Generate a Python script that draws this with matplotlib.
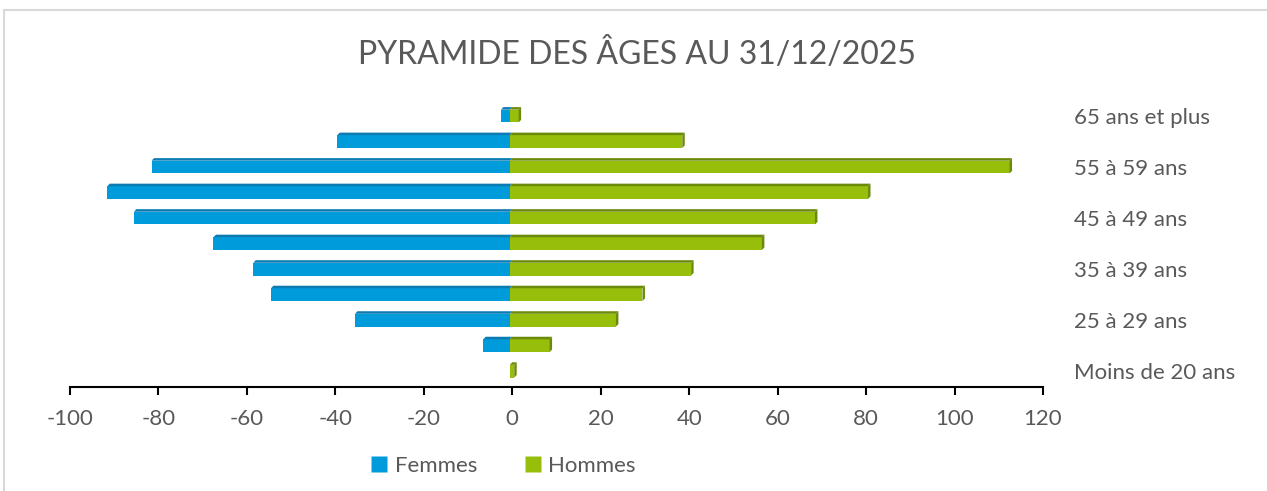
import matplotlib
matplotlib.use("Agg")
import matplotlib.pyplot as plt
from matplotlib.patches import Polygon, Rectangle
from matplotlib.lines import Line2D
import numpy as np

plt.rcParams['font.family'] = ['Lato', 'DejaVu Sans']

categories = ["Moins de 20 ans", "20 à 24 ans", "25 à 29 ans", "30 à 34 ans",
              "35 à 39 ans", "40 à 44 ans", "45 à 49 ans", "50 à 54 ans",
              "55 à 59 ans", "60 à 64 ans", "65 ans et plus"]
femmes = [0, -6, -35, -54, -58, -67, -85, -91, -81, -39, -2]
hommes = [1, 9, 24, 30, 41, 57, 69, 81, 113, 39, 2]
xticks = [-100, -80, -60, -40, -20, 0, 20, 40, 60, 80, 100, 120]
title = "PYRAMIDE DES ÂGES AU 31/12/2025"

blue = "#009BDB"
blue_top = "#0B7BB2"
green = "#98BE0C"
green_top = "#6C8A0A"
text_col = "#595959"

W, H = 1267, 491
fig = plt.figure(figsize=(W / 100, H / 100), dpi=100)
ax = fig.add_axes([70 / W, (H - 386.5) / H, 973 / W, 284.5 / H])

y = np.arange(len(categories))
h = 0.5      # front face height (category units)
dx = 0.56    # depth offset in x (data units)
dy = 0.10    # depth offset in y (category units)

def draw(values, face, top):
    vals = np.array(values, dtype=float)
    ax.barh(y, vals, left=-dx, height=h, color=face, edgecolor='none', zorder=3)
    for yi, v in zip(y, vals):
        if v == 0:
            continue
        x0, x1 = -dx, v - dx
        lo, hi = min(x0, x1), max(x0, x1)
        yb, yt = yi - h / 2, yi + h / 2
        ax.add_patch(Polygon([(lo, yt), (hi, yt), (hi + dx, yt + dy), (lo + dx, yt + dy)],
                             closed=True, color=top, lw=0, zorder=3))
        if v > 0:
            ax.add_patch(Polygon([(hi, yb), (hi + dx, yb + dy), (hi + dx, yt + dy), (hi, yt)],
                                 closed=True, color=top, lw=0, zorder=3))

draw(femmes, blue, blue_top)
draw(hommes, green, green_top)

ax.set_xlim(-100, 120)
ax.set_ylim(-0.6, 10.55)
ax.set_xticks(xticks)
ax.set_xticklabels([str(t) for t in xticks], fontsize=16, color=text_col)
ax.tick_params(axis='x', length=6, width=1.5, color='black', direction='out', pad=10)

ax.yaxis.tick_right()
ax.set_yticks(y)
ax.set_yticklabels([c if i % 2 == 0 else "" for i, c in enumerate(categories)],
                   fontsize=16, color=text_col)
ax.tick_params(axis='y', length=0, pad=22)

for s in ['top', 'right', 'left']:
    ax.spines[s].set_visible(False)
ax.spines['bottom'].set_linewidth(1.5)
ax.spines['bottom'].set_color('black')

fig.text(0.5 * (360 + 915) / W, 1 - 54 / H, title, ha='center', va='center',
         fontsize=23, color=text_col)

handles = [Line2D([], [], marker='s', linestyle='none', markersize=11,
                  markerfacecolor=blue, markeredgecolor='none'),
           Line2D([], [], marker='s', linestyle='none', markersize=11,
                  markerfacecolor=green, markeredgecolor='none')]
fig.legend(handles, ["Femmes", "Hommes"], loc='center', ncol=2,
           bbox_to_anchor=(503 / W, 1 - 466 / H), frameon=False,
           fontsize=16, labelcolor=text_col, handlelength=0.8,
           handletextpad=0.3, columnspacing=2.1)

fig.patches.append(Rectangle((4 / W, -0.1), 1.5, 1.1 - 10 / H, transform=fig.transFigure,
                             fill=False, edgecolor='#D9D9D9', lw=1.5, zorder=0))

fig.savefig("out.png", dpi=100, facecolor='white')
